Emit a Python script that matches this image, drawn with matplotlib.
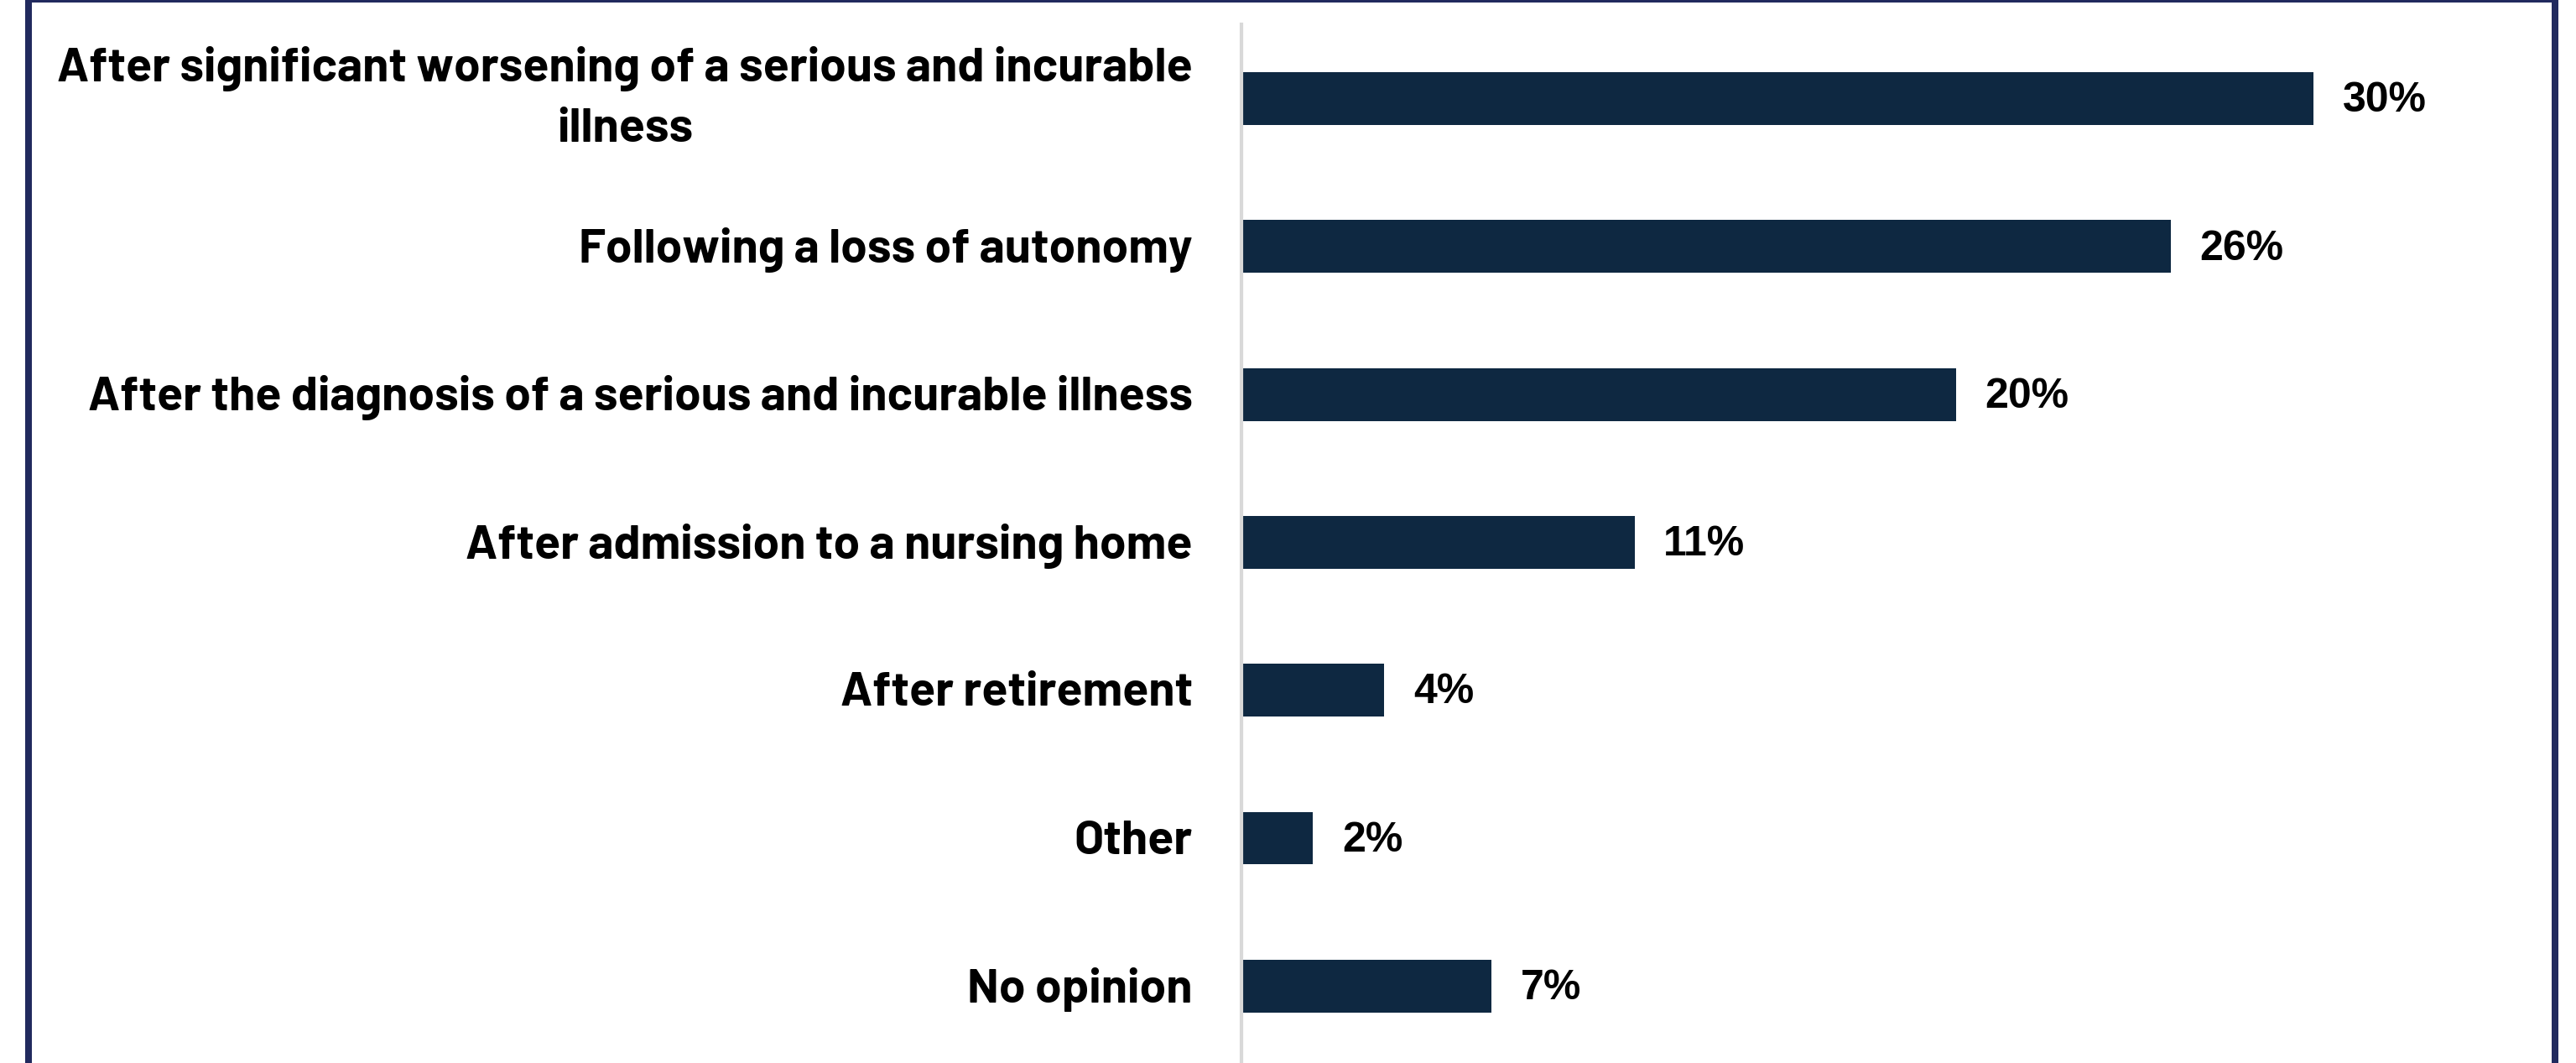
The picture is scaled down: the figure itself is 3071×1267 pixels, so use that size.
import matplotlib.pyplot as plt
from matplotlib.patches import Rectangle

categories = [
    "After significant worsening of a serious and incurable\nillness",
    "Following a loss of autonomy",
    "After the diagnosis of a serious and incurable illness",
    "After admission to a nursing home",
    "After retirement",
    "Other",
    "No opinion",
]
values = [30, 26, 20, 11, 4, 2, 7]
value_labels = ["30%", "26%", "20%", "11%", "4%", "2%", "7%"]

W, H = 3071, 1267
fig = plt.figure(figsize=(W / 100, H / 100), dpi=100)
fig.patch.set_facecolor("white")

# frame around the chart
navy = "#212A5E"
fig.add_artist(Rectangle((30 / W, 0), 8 / W, 1, transform=fig.transFigure, color=navy, lw=0))
fig.add_artist(Rectangle((3042 / W, 0), 8 / W, 1, transform=fig.transFigure, color=navy, lw=0))
fig.add_artist(Rectangle((30 / W, 1 - 3 / H), 3020 / W, 3 / H, transform=fig.transFigure, color=navy, lw=0))

ax_left = 1480 / W
ax_right = 3000 / W
ax_top = 1 - 29 / H
ax = fig.add_axes([ax_left, 0, ax_right - ax_left, ax_top])

px_per_pct = 42.6
ax.set_xlim(0, (3000 - 1480) / px_per_pct)
ax.set_ylim(6.52, -0.502)

ypos = list(range(len(categories)))
ax.barh(ypos, values, height=0.357, color="#0E2841")

for y, v, lab in zip(ypos, values, value_labels):
    ax.annotate(lab, (v, y), xytext=(25, -2), textcoords="offset points",
                va="center", ha="left", fontsize=36, fontweight="bold",
                family=["Liberation Sans", "DejaVu Sans"], color="black")

# category labels, right aligned next to the axis line
for y, cat in zip(ypos, categories):
    dy = 0 if "\n" in cat else -3
    ax.annotate(cat, (0, y), xycoords=ax.get_yaxis_transform(),
                xytext=(-42, dy), textcoords="offset points",
                ha="right", va="center", multialignment="center",
                linespacing=1.5, fontsize=41, fontweight="bold",
                family=["Barlow", "Barlow Semi Condensed", "DejaVu Sans"])

ax.set_yticks([])
ax.set_xticks([])

for s in ["top", "right", "bottom"]:
    ax.spines[s].set_visible(False)
ax.spines["left"].set_color("#D9D9D9")
ax.spines["left"].set_linewidth(3)

fig.savefig("out.png", dpi=100)
